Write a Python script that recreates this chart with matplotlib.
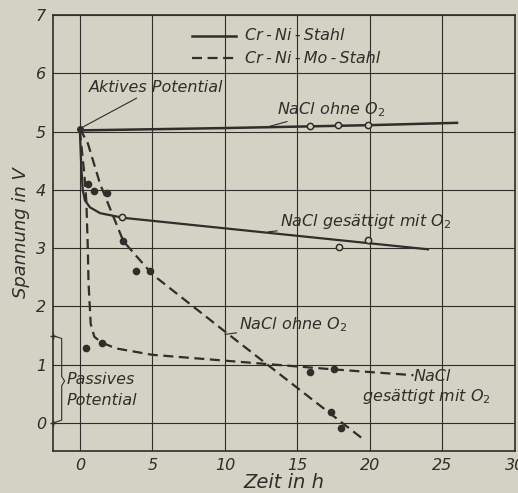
import numpy as np
from matplotlib import pyplot as plt

# Cr-Ni-Stahl, NaCl ohne O2 (solid)
ni_ohne_t = [0.0, 10.0, 20.0, 26.0]
ni_ohne_u = [5.02, 5.06, 5.11, 5.15]
ni_ohne_pts_t = [15.9, 17.8, 19.9]
ni_ohne_pts_u = [5.10, 5.11, 5.12]

# Cr-Ni-Stahl, NaCl gesaettigt mit O2 (solid)
ni_o2_t = [0.0, 0.1, 0.2, 0.35, 0.7, 1.4, 3.0, 10.0, 24.0]
ni_o2_u = [5.02, 4.4, 4.0, 3.82, 3.7, 3.6, 3.52, 3.34, 2.98]
ni_o2_pts_t = [2.9, 17.9, 19.9]
ni_o2_pts_u = [3.53, 3.02, 3.14]

# Cr-Ni-Mo-Stahl, NaCl ohne O2 (dashed)
mo_ohne_t = [0.0, 0.55, 1.4, 2.05, 3.0, 5.0, 10.0, 19.6]
mo_ohne_u = [5.05, 4.8, 4.1, 3.7, 3.12, 2.55, 1.57, -0.29]
mo_ohne_pts_t = [0.55, 0.96, 1.9, 2.97, 3.9, 4.86, 17.3, 18.0]
mo_ohne_pts_u = [4.1, 3.98, 3.94, 3.12, 2.6, 2.6, 0.19, -0.09]

# Cr-Ni-Mo-Stahl, NaCl gesaettigt mit O2 (dashed)
mo_o2_t = [0.0, 0.3, 0.45, 0.55, 0.6, 0.75, 1.0, 1.5, 2.5, 5.0, 12.0, 17.5, 23.0]
mo_o2_u = [5.02, 4.3, 3.8, 3.0, 2.4, 1.7, 1.48, 1.38, 1.28, 1.17, 1.03, 0.92, 0.82]
mo_o2_pts_t = [0.45, 1.5, 15.9, 17.5]
mo_o2_pts_u = [1.29, 1.37, 0.88, 0.92]

x_ticks = [0, 5, 10, 15, 20, 25, 30]
y_ticks = [0, 1, 2, 3, 4, 5, 6, 7]

bg = "#d3d2c4"
ink = "#2e2e2a"
dash = (0, (4.5, 2.5))
ts = "\u2009"  # thin space around hyphens as in the original lettering

fig = plt.figure(figsize=(5.18, 4.93), dpi=100, facecolor=bg)
ax = fig.add_axes([0.1023, 0.0852, 0.8919, 0.8844], facecolor=bg)

txt = dict(color=ink, style="italic", family="DejaVu Sans")
fs = 11.5

ax.plot(ni_ohne_t, ni_ohne_u, color=ink, lw=1.8)
ax.plot(ni_ohne_pts_t, ni_ohne_pts_u, "o", ms=4.5, mfc=bg, mec=ink, mew=1.1)
ax.plot(ni_o2_t, ni_o2_u, color=ink, lw=1.6)
ax.plot(ni_o2_pts_t, ni_o2_pts_u, "o", ms=4.5, mfc=bg, mec=ink, mew=1.1)
ax.plot(mo_ohne_t, mo_ohne_u, color=ink, lw=1.6, ls=dash)
ax.plot(mo_ohne_pts_t, mo_ohne_pts_u, "o", ms=4.5, color=ink)
ax.plot(mo_o2_t, mo_o2_u, color=ink, lw=1.6, ls=dash)
ax.plot(mo_o2_pts_t, mo_o2_pts_u, "o", ms=4.5, color=ink)
ax.plot([0], [5.05], "o", ms=4, color=ink)

# legend
ax.plot([7.7, 10.8], [6.64, 6.64], color=ink, lw=1.8)
ax.plot([7.7, 10.8], [6.26, 6.26], color=ink, lw=1.6, ls=dash)
ax.text(11.4, 6.64, f"Cr{ts}-{ts}Ni{ts}-{ts}Stahl", fontsize=fs, va="center", **txt)
ax.text(11.4, 6.26, f"Cr{ts}-{ts}Ni{ts}-{ts}Mo{ts}-{ts}Stahl", fontsize=fs, va="center", **txt)

# annotations
arrow = dict(arrowstyle="-", color=ink, lw=0.8, shrinkA=0, shrinkB=0)
ax.annotate("Aktives Potential", xy=(0, 5.05), xytext=(0.6, 5.75), fontsize=fs, va="center",
            arrowprops=arrow, **txt)
ax.annotate("NaCl ohne O$_2$", xy=(12.8, 5.07), xytext=(13.6, 5.38), fontsize=fs, va="center",
            arrowprops=arrow, **txt)
ax.annotate("NaCl gesättigt mit O$_2$", xy=(13.0, 3.28), xytext=(13.8, 3.46), fontsize=fs, va="center",
            arrowprops=arrow, **txt)
ax.annotate("NaCl ohne O$_2$", xy=(10.0, 1.52), xytext=(11.0, 1.68), fontsize=fs, va="center",
            arrowprops=arrow, **txt)
ax.text(23.0, 0.80, "NaCl", fontsize=fs, va="center", ha="left", **txt)
ax.text(23.9, 0.45, "gesättigt mit O$_2$", fontsize=fs, va="center", ha="center", **txt)

# bracket for passive potential
ax.plot([-1.85, -1.25, -1.25, -1.05, -1.25, -1.25, -1.85],
        [1.5, 1.45, 0.8, 0.72, 0.64, 0.05, 0.0], color=ink, lw=0.8)
ax.plot([-1.85, -1.85], [0.0, 1.5], "+", color=ink, ms=5, mew=1, clip_on=False)
ax.text(-0.9, 0.74, "Passives", fontsize=fs, va="center", **txt)
ax.text(-0.9, 0.38, "Potential", fontsize=fs, va="center", **txt)

ax.set_xlim(-1.85, 29.9)
ax.set_ylim(-0.48, 7.0)
ax.set_xticks(x_ticks)
ax.set_yticks(y_ticks)
ax.tick_params(length=0, pad=5, labelsize=11.5, labelcolor=ink)
for lab in ax.get_xticklabels() + ax.get_yticklabels():
    lab.set_style("italic")
ax.grid(True, color=ink, lw=0.8)
for s in ax.spines.values():
    s.set_color(ink)
    s.set_linewidth(1.2)

ax.set_xlabel("Zeit in h", fontsize=14, labelpad=0, **txt)
ax.set_ylabel("Spannung in V", fontsize=13, labelpad=4, **txt)

fig.savefig("out.png", dpi=100, facecolor=bg)
